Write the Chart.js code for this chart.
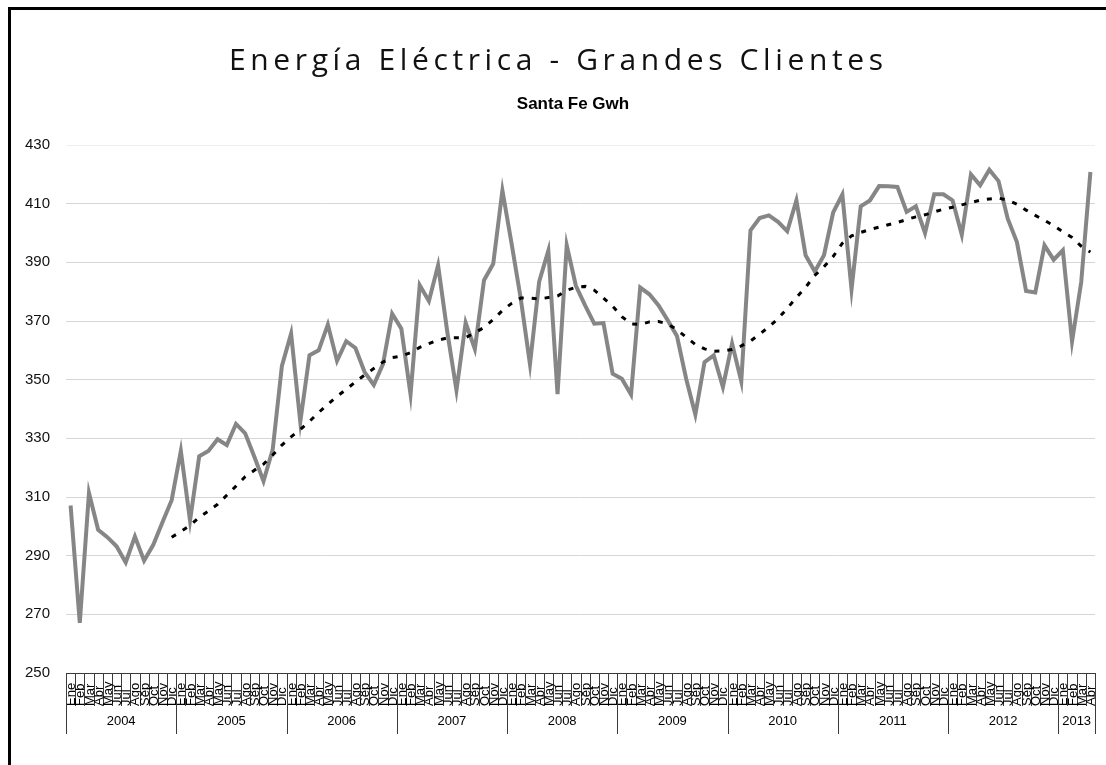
<!DOCTYPE html>
<html>
<head>
<meta charset="utf-8">
<script src="https://cdn.jsdelivr.net/npm/chart.js@4"></script>
<style>
  html, body { margin: 0; padding: 0; background: #fff; }
  canvas { display: block; }
</style>
</head>
<body>
<canvas id="grafico" width="1106" height="765"></canvas>
<script>
// datos: energía eléctrica grandes clientes, Santa Fe (Gwh), Ene 2004 - Abr 2013
const meses = ['Ene', 'Feb', 'Mar', 'Abr', 'May', 'Jun', 'Jul', 'Ago', 'Sep', 'Oct', 'Nov', 'Dic'];
const anios = ['2004', '2005', '2006', '2007', '2008', '2009', '2010', '2011', '2012', '2013'];
const mesesPorAnio = [12, 12, 12, 12, 12, 12, 12, 12, 12, 4];

const consumo = [
  307.1, 267.1, 311.4, 298.8, 296.3, 293.2, 287.7, 296.5, 288.3, 293.7, 301.4, 308.9,
  325.7, 302.0, 323.9, 325.7, 329.7, 327.7, 334.9, 331.7, 323.7, 315.4, 326.2, 354.7,
  365.7, 335.6, 358.3, 360.0, 368.8, 356.4, 363.1, 360.8, 352.6, 348.2, 355.3, 372.5,
  367.4, 345.0, 382.2, 376.8, 389.0, 366.3, 346.4, 369.4, 360.5, 383.9, 389.5, 414.5,
  396.4, 377.6, 355.3, 383.4, 394.0, 345.1, 395.8, 382.0, 375.3, 369.1, 369.3, 352.0,
  350.3, 344.9, 381.4, 379.1, 375.3, 370.2, 364.9, 350.3, 338.1, 356.0, 358.3, 347.5,
  362.3, 349.4, 400.9, 405.1, 406.0, 403.8, 400.6, 411.1, 392.4, 386.9, 392.4, 407.0,
  413.1, 380.8, 409.1, 411.1, 416.0, 415.9, 415.7, 407.2, 409.1, 400.0, 413.2, 413.2,
  411.1, 399.4, 420.0, 416.3, 421.6, 417.7, 404.9, 396.9, 380.2, 379.7, 395.8, 390.9,
  394.1, 363.0, 383.3, 420.8
];

// media movil (linea punteada)
const tendencia = [
  null, null, null, null, null, null, null, null, null, null, null, 296.3,
  298.2, 300.3, 303.1, 305.2, 307.5, 310.6, 313.7, 316.9, 319.1, 321.2, 324.3, 327.7,
  330.5, 333.0, 335.8, 338.8, 341.6, 344.3, 346.7, 349.2, 351.6, 353.8, 356.0, 357.5,
  358.0, 359.2, 361.0, 362.3, 363.5, 364.2, 364.3, 364.3, 366.0, 367.8, 370.5, 373.6,
  376.0, 377.8, 377.8, 377.5, 378.0, 378.5, 380.5, 381.5, 381.8, 380.5, 377.8, 375.0,
  371.5, 369.0, 368.8, 369.7, 369.8, 369.0, 367.0, 364.5, 362.0, 360.5, 359.7, 359.8,
  360.3, 361.5, 363.2, 365.5, 368.0, 370.8, 374.3, 378.0, 381.5, 385.5, 388.5, 392.0,
  396.5, 399.0, 400.2, 401.2, 402.0, 402.8, 403.6, 404.6, 405.5, 406.2, 407.2, 408.1,
  408.8, 409.6, 410.4, 411.2, 411.6, 411.9, 411.2, 409.8, 407.8, 406.0, 404.3, 402.5,
  400.4, 398.5, 395.5, 393.5
];

const ejeY = { min: 250, max: 430, paso: 20 };

const titulo = 'Energía Eléctrica - Grandes Clientes';
const subtitulo = 'Santa Fe Gwh';

// etiquetas de categoria: un mes por punto
const etiquetas = [];
anios.forEach((a, k) => {
  for (let m = 0; m < mesesPorAnio[k]; m++) etiquetas.push(meses[m]);
});

// marco, titulos y eje de categorias en dos niveles (meses / años)
const decorado = {
  id: 'decorado',
  afterDraw(chart) {
    const ctx = chart.ctx;
    const area = chart.chartArea;
    const x = chart.scales.x;
    const paso = x.getPixelForValue(1) - x.getPixelForValue(0);
    const base = Math.round(area.bottom);

    ctx.save();
    // marco negro
    ctx.fillStyle = '#000';
    ctx.fillRect(8, 7, 3, 765);
    ctx.fillRect(8, 7, 1106, 3);

    // titulo espaciado
    ctx.font = '30px "Open Sans"';
    ctx.textBaseline = 'alphabetic';
    ctx.textAlign = 'left';
    ctx.letterSpacing = '0px';
    const ancho = ctx.measureText(titulo).width;
    const esp = (654 - ancho) / (titulo.length - 1);
    ctx.letterSpacing = esp + 'px';
    ctx.fillStyle = '#111';
    ctx.fillText(titulo, 229, 70);
    ctx.letterSpacing = '0px';

    ctx.font = 'bold 17px "Liberation Sans"';
    ctx.textAlign = 'center';
    ctx.textBaseline = 'middle';
    ctx.fillStyle = '#000';
    ctx.fillText(subtitulo, 573, 104);

    // linea del eje
    ctx.strokeStyle = '#3a3a3a';
    ctx.lineWidth = 1;
    ctx.beginPath();
    ctx.moveTo(area.left, base + 0.5);
    ctx.lineTo(area.right, base + 0.5);
    ctx.stroke();

    // marcas entre meses
    ctx.beginPath();
    for (let i = 0; i <= etiquetas.length; i++) {
      const px = Math.round(x.getPixelForValue(i) - paso / 2) + 0.5;
      ctx.moveTo(px, base);
      ctx.lineTo(px, base + 33);
    }
    ctx.stroke();

    // nombres de meses, girados
    ctx.font = '13px "Liberation Sans"';
    ctx.fillStyle = '#000';
    ctx.textAlign = 'left';
    ctx.textBaseline = 'middle';
    etiquetas.forEach((m, i) => {
      ctx.save();
      ctx.translate(x.getPixelForValue(i) + 1, base + 33);
      ctx.rotate(-Math.PI / 2);
      ctx.fillText(m, 0, 0);
      ctx.restore();
    });

    // años
    ctx.font = '13px "Liberation Sans"';
    ctx.textAlign = 'center';
    let inicio = 0;
    ctx.beginPath();
    anios.forEach((a, k) => {
      const fin = inicio + mesesPorAnio[k];
      const izq = x.getPixelForValue(inicio) - paso / 2;
      const der = x.getPixelForValue(fin - 1) + paso / 2;
      const px = Math.round(izq) + 0.5;
      ctx.moveTo(px, base);
      ctx.lineTo(px, base + 61);
      ctx.fillText(a, (izq + der) / 2, base + 48);
      inicio = fin;
    });
    const ultimo = Math.round(x.getPixelForValue(etiquetas.length - 1) + paso / 2) + 0.5;
    ctx.moveTo(ultimo, base);
    ctx.lineTo(ultimo, base + 61);
    ctx.stroke();
    ctx.restore();
  }
};

const ctx = document.getElementById('grafico').getContext('2d');

const grafico = new Chart(ctx, {
  type: 'line',
  data: {
    labels: etiquetas,
    datasets: [{
      label: 'Gwh',
      data: consumo,
      borderColor: '#868686',
      borderWidth: 4,
      pointRadius: 0,
      tension: 0,
      order: 2
    }, {
      label: 'Media móvil',
      data: tendencia,
      borderColor: '#000',
      borderWidth: 3,
      borderDash: [5, 8],
      pointRadius: 0,
      tension: 0,
      spanGaps: false,
      order: 1
    }]
  },
  options: {
    responsive: false,
    animation: false,
    layout: {
      padding: { top: 145, right: 11, bottom: 84, left: 0 }
    },
    plugins: {
      legend: { display: false },
      tooltip: { enabled: false },
      title: { display: false }
    },
    scales: {
      x: {
        type: 'category',
        offset: true,
        grid: { display: false },
        border: { display: false },
        ticks: { display: false }
      },
      y: {
        min: ejeY.min,
        max: ejeY.max,
        afterFit: (s) => { s.width = 66; },
        ticks: {
          stepSize: ejeY.paso,
          padding: 16,
          color: '#111',
          font: { family: '"Liberation Sans"', size: 15 }
        },
        grid: {
          drawTicks: false,
          color: (c) => c.tick && c.tick.value === ejeY.max ? '#eeeeee' : '#d6d6d6',
          lineWidth: 1
        },
        border: { display: false }
      }
    }
  },
  plugins: [decorado]
});
</script>
</body>
</html>
